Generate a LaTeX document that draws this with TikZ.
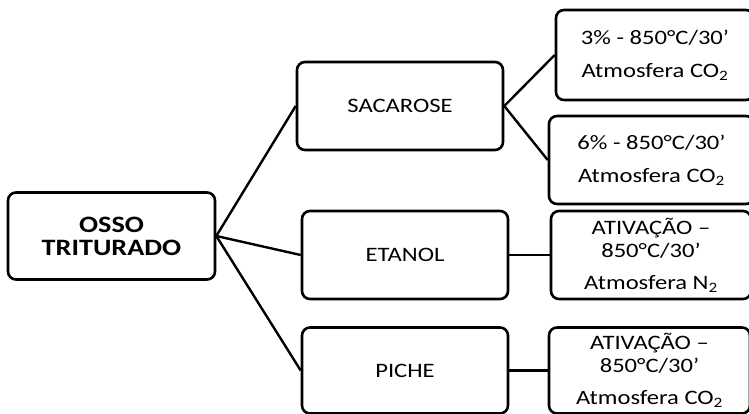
\documentclass[tikz,border=0pt]{standalone}
\usepackage{fontspec}
\setmainfont{Carlito}[FakeStretch=1.2]
\begin{document}
\begin{tikzpicture}[x=1pt,y=-1pt,
  box/.style={draw=black, line width=2.6pt, rounded corners=8pt, align=center,
    inner sep=0pt, font=\fontsize{20.5}{23}\selectfont},
  link/.style={draw=black, line width=2.4pt}]
\useasboundingbox (0,0) rectangle (749,414);
% root
\node[box, minimum width=207pt, minimum height=87pt,
      font=\fontsize{23.5}{23}\selectfont\bfseries] (osso) at (111.5,236) {OSSO\\TRITURADO};
% middle column
\node[box, minimum width=206pt, minimum height=88pt] (sac) at (400,106) {SACAROSE};
\node[box, minimum width=206pt, minimum height=88pt] (eta) at (405,255) {ETANOL};
\node[box, minimum width=206pt, minimum height=86pt] (pic) at (405,370.5) {PICHE};
% right column
\node[box, minimum width=198pt, minimum height=90pt] (s3) at (655,55)
  {3\% - 850°C/30’\\[10pt]Atmosfera CO\textsubscript{2}};
\node[box, minimum width=205pt, minimum height=88pt] (s6) at (651.5,160)
  {6\% - 850°C/30’\\[10pt]Atmosfera CO\textsubscript{2}};
\node[box, minimum width=200pt, minimum height=88pt] (a1) at (651,255)
  {ATIVAÇÃO –\\850°C/30’\\[9pt]Atmosfera N\textsubscript{2}};
\node[box, minimum width=201pt, minimum height=86pt] (a2) at (649.5,370.5)
  {ATIVAÇÃO –\\850°C/30’\\[9pt]Atmosfera CO\textsubscript{2}};
% connectors
\draw[link] (osso.east) -- (sac.west);
\draw[link] (osso.east) -- (eta.west);
\draw[link] (osso.east) -- (pic.west);
\draw[link] (sac.east) -- (s3.west);
\draw[link] (sac.east) -- (s6.west);
\draw[link] (eta.east) -- (a1.west);
\draw[link] (pic.east) -- (a2.west);
\end{tikzpicture}
\end{document}
